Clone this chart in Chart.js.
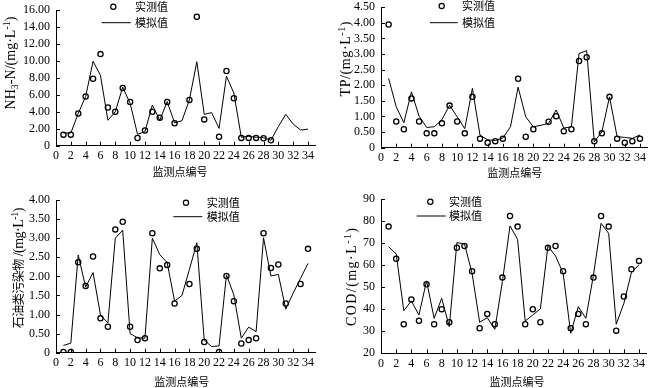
<!DOCTYPE html>
<html><head><meta charset="utf-8">
<script src="https://cdn.jsdelivr.net/npm/chart.js@4.4.1/dist/chart.umd.min.js"></script>
<style>
html,body{margin:0;padding:0;background:#fff;overflow:hidden;}
#wrap{position:relative;width:655px;height:388px;overflow:hidden;background:#fff;}
canvas{position:absolute;}
</style></head><body>
<div id="wrap">
<canvas id="c1"></canvas><canvas id="c2"></canvas><canvas id="c3"></canvas><canvas id="c4"></canvas>
</div>
<script>
// ---- data ----
const sites = [1,2,3,4,5,6,7,8,9,10,11,12,13,14,15,16,17,18,19,20,21,22,23,24,25,26,27,28,29,30,31,32,33,34];
const xTicks = [0,2,4,6,8,10,12,14,16,18,20,22,24,26,28,30,32,34];

const nh3Measured  = [1.3,1.3,3.8,5.8,7.9,10.8,4.5,4.0,6.8,5.15,0.9,1.8,4.0,3.3,5.15,2.65,null,5.4,15.2,3.1,null,1.06,8.8,5.6,0.92,0.92,0.92,0.87,0.65,null,null,null,null,null];
const nh3Simulated = [1.5,1.5,3.8,5.8,9.95,8.3,3.0,4.0,6.9,5.0,1.35,1.65,4.8,3.0,5.2,2.7,2.95,5.4,9.9,3.7,3.9,2.05,8.2,6.2,1.0,1.1,1.0,0.95,0.65,2.25,3.7,2.55,1.85,1.95];
const nh3Ticks = [0,2,4,6,8,10,12,14,16];

const tpMeasured  = [3.95,0.84,0.59,1.58,0.84,0.46,0.46,0.78,1.35,0.84,0.46,1.63,0.29,0.16,0.21,0.29,null,2.21,0.35,0.59,null,0.83,1.01,0.53,0.59,2.78,2.9,0.21,0.46,1.63,0.29,0.16,0.21,0.29];
const tpSimulated = [2.22,1.31,0.8,1.79,1.01,0.65,0.67,0.9,1.36,0.99,0.61,1.9,0.4,0.25,0.23,0.31,0.67,1.94,0.99,0.67,0.72,0.78,1.21,0.63,0.67,3.02,3.11,0.19,0.51,1.63,0.35,0.33,0.3,0.41];
const tpTicks = [0,0.5,1,1.5,2,2.5,3,3.5,4,4.5];

const oilMeasured  = [0.02,0.02,2.37,1.75,2.52,0.9,0.68,3.23,3.43,0.68,0.33,0.38,3.13,2.21,2.3,1.29,null,1.8,2.72,0.28,null,0.02,2.01,1.35,0.24,0.33,0.38,3.13,2.22,2.31,1.29,null,1.8,2.72];
const oilSimulated = [0.19,0.25,2.56,1.72,2.1,0.99,0.78,3.0,3.21,0.5,0.39,0.38,3.0,2.57,2.36,1.35,1.5,2.18,2.88,0.33,0.16,0.18,2.04,1.51,0.38,0.67,0.55,3.01,2.01,2.05,1.14,1.56,1.95,2.34];
const oilTicks = [0,0.5,1,1.5,2,2.5,3,3.5,4];

const codMeasured  = [77.6,63.0,33.2,44.5,34.8,51.4,33.2,40.0,34.1,68.0,68.8,57.3,31.4,37.9,33.2,54.4,82.4,77.6,33.2,40.0,34.1,68.0,68.8,57.3,31.4,37.9,33.2,54.4,82.4,77.6,30.3,45.8,58.2,62.0];
const codSimulated = [68.5,65.2,39.4,43.8,37.4,52.9,35.9,45.0,32.1,70.3,69.7,56.4,34.1,36.2,30.9,52.6,77.9,71.8,34.7,37.4,40.2,68.8,64.2,56.4,29.1,41.2,35.9,55.6,79.1,74.5,33.2,42.7,56.7,60.2];
const codTicks = [20,30,40,50,60,70,80,90];

const legendMeasured = '实测值';
const legendSimulated = '模拟值';
const xTitle = '监测点编号';

// ---- drawing helpers ----
const SERIF = '"Liberation Serif","Times New Roman",serif';
const CJK = '"Noto Sans CJK SC",sans-serif';
const FT = '14px ' + SERIF;
const FSM = '10px ' + SERIF;
const FCJK = '11px ' + CJK;
const FCJKT = '12px ' + CJK;

function drawRich(ctx, segs, cx, cy, target) {
  ctx.save();
  ctx.translate(cx, cy); ctx.rotate(-Math.PI/2);
  ctx.textAlign = 'left'; ctx.textBaseline = 'alphabetic'; ctx.fillStyle = '#000';
  const chars = [];
  segs.forEach(s => { ctx.font = s.f; for (const ch of s.t) chars.push({ch, f:s.f, dy:s.dy||0, w:ctx.measureText(ch).width}); });
  const nat = chars.reduce((a,c)=>a+c.w,0);
  let extra = target ? (target-nat)/Math.max(chars.length-1,1) : 0;
  extra = Math.max(-0.5, Math.min(extra, 2.5));
  let x = -(nat + extra*(chars.length-1))/2;
  chars.forEach(c => { ctx.font = c.f; ctx.fillText(c.ch, x, 4.5 + c.dy); x += c.w + extra; });
  ctx.restore();
}

const deco = {
  id: 'deco',
  afterDraw(chart) {
    const cfg = chart.$deco; if (!cfg) return;
    const ctx = chart.ctx, ox = cfg.box.x, oy = cfg.box.y;
    const xs = chart.scales.x, ys = chart.scales.y;
    ctx.save();
    ctx.strokeStyle = '#000'; ctx.lineWidth = 1;
    ctx.beginPath();
    xs.ticks.forEach(t => { const px = Math.round(xs.getPixelForValue(t.value)) + 0.5; ctx.moveTo(px, ys.bottom); ctx.lineTo(px, ys.bottom - 4); });
    ys.ticks.forEach(t => { const py = Math.round(ys.getPixelForValue(t.value)) + 0.5; ctx.moveTo(xs.left, py); ctx.lineTo(xs.left + 4, py); });
    ctx.stroke();
    // x title
    ctx.fillStyle = '#000'; ctx.font = FCJK; ctx.textAlign = 'center'; ctx.textBaseline = 'middle';
    ctx.fillText(xTitle, cfg.xt[0]-ox, cfg.xt[1]-oy);
    // legend
    const L = cfg.leg;
    ctx.beginPath(); ctx.lineWidth = 1.2; ctx.arc(L.cx-ox, L.cy-oy, 2.6, 0, Math.PI*2); ctx.stroke();
    ctx.beginPath(); ctx.lineWidth = 1; ctx.moveTo(L.l1-ox, L.ly-oy); ctx.lineTo(L.l2-ox, L.ly-oy); ctx.stroke();
    ctx.textAlign = 'left'; ctx.font = FCJK;
    ctx.fillText(legendMeasured, L.tx-ox, L.cy-oy);
    ctx.fillText(legendSimulated, L.tx-ox, L.ly-oy);
    ctx.restore();
    drawRich(ctx, cfg.yt.segs, cfg.yt.x-ox, cfg.yt.y-oy, cfg.yt.len);
  }
};

function makeChart(id, box, area, yTicks, yMin, yMax, fmt, measured, simulated, xt, leg, yt) {
  const cv = document.getElementById(id);
  cv.width = box.w; cv.height = box.h;
  cv.style.left = box.x + 'px'; cv.style.top = box.y + 'px';
  cv.style.width = box.w + 'px'; cv.style.height = box.h + 'px';
  const ch = new Chart(cv.getContext('2d'), {
    type: 'line',
    data: { datasets: [
      { data: sites.map((s,i)=>({x:s, y:measured[i]})), showLine:false, pointStyle:'circle', pointRadius:2.6, pointBorderWidth:1.3, pointBorderColor:'#000', pointBackgroundColor:'rgba(0,0,0,0)', order:0 },
      { data: sites.map((s,i)=>({x:s, y:simulated[i]})), borderColor:'#000', borderWidth:1, pointRadius:0, tension:0, fill:false, order:1 }
    ]},
    options: {
      responsive:false, animation:false, events:[],
      layout: { padding: { left:0, top: area.t - box.y, right: box.x + box.w - area.r, bottom:0 } },
      plugins: { legend:{display:false}, tooltip:{enabled:false} },
      scales: {
        x: { type:'linear', min:0, max:35,
             grid:{display:false, drawTicks:false}, border:{display:true, color:'#000', width:1},
             afterBuildTicks: s => { s.ticks = xTicks.map(v=>({value:v})); },
             afterFit: s => { s.height = box.y + box.h - area.b; },
             ticks:{ color:'#000', font:{family:SERIF, size:12}, padding:3, maxRotation:0, autoSkip:false, callback: v => String(v) } },
        y: { type:'linear', min:yMin, max:yMax,
             grid:{display:false, drawTicks:false}, border:{display:true, color:'#000', width:1},
             afterBuildTicks: s => { s.ticks = yTicks.map(v=>({value:v})); },
             afterFit: s => { s.width = area.l - box.x; },
             ticks:{ color:'#000', font:{family:SERIF, size:12}, padding:6, autoSkip:false, callback: fmt } }
      }
    },
    plugins: [deco]
  });
  ch.$deco = { box, xt, leg, yt };
  ch.draw();
  return ch;
}

const fmt2 = v => v === 0 ? '0' : v.toFixed(2);
const fmt0 = v => String(v);
const unitSegs = (prefix) => prefix.concat([
  {t:'/(mg·L', f:FT}, {t:'-1', f:FSM, dy:-5}, {t:')', f:FT}
]);

makeChart('c1', {x:0,y:-10,w:327,h:204}, {l:56,r:315.4,t:10,b:145.7}, nh3Ticks, 0, 16, fmt2, nh3Measured, nh3Simulated,
  [180,172], {cx:113.3,cy:6.7,tx:135,l1:101.7,l2:130.7,ly:22.7},
  {x:10.7, y:63, len:93, segs: unitSegs([{t:'NH',f:FT},{t:'3',f:FSM,dy:3},{t:'-N',f:FT}])});

makeChart('c2', {x:327,y:-10,w:328,h:204}, {l:381,r:647.6,t:7.3,b:147.7}, tpTicks, 0, 4.5, fmt2, tpMeasured, tpSimulated,
  [514.7,172.7], {cx:441.7,cy:6,tx:462,l1:430,l2:457.7,ly:22.7},
  {x:345.7, y:59, len:75, segs: unitSegs([{t:'TP',f:FT}])});

makeChart('c3', {x:0,y:184,w:327,h:204}, {l:56,r:315.4,t:200,b:352.7}, oilTicks, 0, 4, fmt2, oilMeasured, oilSimulated,
  [181.7,381.7], {cx:186,cy:202.7,tx:206.7,l1:173.3,l2:202.3,ly:216.7},
  {x:18.3, y:268, len:117, segs: unitSegs([{t:'石油类污染物',f:FCJKT},{t:' ',f:FT}])});

makeChart('c4', {x:327,y:184,w:328,h:204}, {l:381,r:646.6,t:199.3,b:353.3}, codTicks, 20, 90, fmt0, codMeasured, codSimulated,
  [517,381.7], {cx:430.3,cy:201.7,tx:449,l1:416.7,l2:445.7,ly:216},
  {x:351.7, y:277, len:98, segs: unitSegs([{t:'COD',f:FT}])});
</script>
</body></html>
